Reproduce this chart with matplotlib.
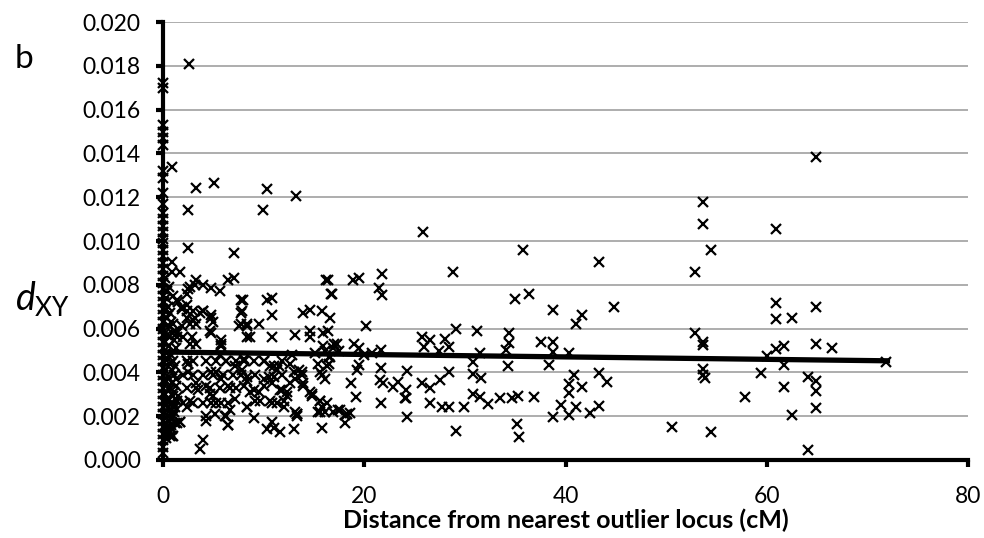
import matplotlib
matplotlib.use('Agg')
import matplotlib.pyplot as plt
from matplotlib.ticker import FormatStrFormatter

plt.rcParams['font.family'] = ['Lato', 'DejaVu Sans']
plt.rcParams['mathtext.fontset'] = 'custom'
plt.rcParams['mathtext.it'] = 'Lato:italic'
plt.rcParams['mathtext.rm'] = 'Lato'

# loci sitting right on an outlier (distance 0)
axis_y = [0.0172, 0.0170, 0.0153, 0.0150, 0.0147, 0.0144, 0.0132, 0.0129, 0.0122,
          0.0117, 0.0113, 0.0110, 0.0107, 0.0104, 0.0101, 0.0099, 0.0096, 0.0093,
          0.0090, 0.0087, 0.0084, 0.0081, 0.0078, 0.0075, 0.0072, 0.0069, 0.0066,
          0.0063, 0.0060, 0.0057, 0.0054, 0.0051, 0.0048, 0.0045, 0.0042, 0.0039,
          0.0036, 0.0033, 0.0030, 0.0027, 0.0024, 0.0021, 0.0018, 0.0015, 0.0012,
          0.0009, 0.0006, 0.0003]

# very close loci (< 1.5 cM)
near_x = [0.1, 0.2, 0.3, 0.4, 0.5, 0.6, 0.7, 0.8, 0.9, 1.0, 1.1, 1.2, 1.3, 1.4,
          0.2, 0.3, 0.4, 0.5, 0.6, 0.7, 0.8, 0.9, 1.0, 1.1, 1.2, 1.3,
          0.1, 0.3, 0.5, 0.7, 0.9, 1.1, 1.3, 1.5,
          0.2, 0.4, 0.6, 0.8, 1.0, 1.2, 1.4,
          0.1, 0.3, 0.5, 0.7, 0.9, 1.1,
          0.2, 0.4, 0.6, 0.8, 1.0, 1.2,
          0.1, 0.3, 0.5, 0.7, 0.4, 0.6, 0.2]
near_y = [0.0072, 0.0068, 0.0074, 0.0065, 0.0070, 0.0061, 0.0067, 0.0063, 0.0058, 0.0062, 0.0055, 0.0059, 0.0051, 0.0056,
          0.0054, 0.0049, 0.0057, 0.0046, 0.0052, 0.0044, 0.0048, 0.0041, 0.0045, 0.0039, 0.0043, 0.0037,
          0.0040, 0.0036, 0.0038, 0.0033, 0.0035, 0.0031, 0.0034, 0.0029,
          0.0030, 0.0027, 0.0032, 0.0026, 0.0029, 0.0024, 0.0027,
          0.0022, 0.0025, 0.0020, 0.0023, 0.0019, 0.0022,
          0.0017, 0.0015, 0.0018, 0.0016, 0.0020, 0.0017,
          0.0012, 0.0010, 0.0013, 0.0011, 0.0077, 0.0079, 0.0083]

# 1.5 - 20 cM
inner_x = [2.6, 0.9, 2.5, 9.9, 3.3, 5.1, 10.3, 13.2,
           2.5, 7.1, 0.9, 0.9, 1.7, 3.3, 2.7, 4.0, 4.8, 5.7, 6.5, 7.1, 16.4, 16.7,
           7.9, 7.8, 10.3, 10.8, 10.8, 13.9, 14.6, 15.8, 16.6, 7.5, 8.3, 8.6, 9.5,
           10.8, 13.1, 14.6, 14.6, 15.9, 16.4, 4.8, 4.8, 4.0, 3.2, 1.9, 1.4, 2.4,
           5.8, 5.7, 6.3, 7.2, 7.8, 4.8, 5.3, 5.8, 4.3, 4.7, 5.0,
           2.5, 2.5, 3.3, 3.5, 2.7, 2.4, 6.5, 7.2, 6.7, 6.2, 6.5, 4.3, 5.3,
           8.3, 8.6, 9.5, 9.1, 8.3, 10.0, 10.5, 10.8, 11.0, 11.5, 11.3, 12.3, 11.8,
           10.3, 11.0, 11.6, 13.0, 13.3, 13.1, 13.9, 13.8, 13.0,
           14.6, 14.8, 15.6, 15.8, 15.6, 16.3, 16.9, 15.8,
           15.4, 15.8, 16.3, 16.6, 15.1, 15.9,
           1.4, 1.7, 0.9, 1.0, 4.0, 3.7,
           3.2, 2.5, 2.4, 1.0, 1.5, 1.9, 2.4, 3.0, 3.7, 4.0, 4.8, 5.0, 3.0, 2.4, 2.7,
           3.3, 4.7, 1.9, 1.4, 2.0, 2.9, 2.7, 3.3, 5.8, 5.8,
           7.7, 7.7, 7.7, 8.3, 8.3,
           2.4, 3.0, 4.3, 5.3, 6.3, 7.3, 8.0, 2.0, 3.0, 4.0, 5.0, 6.0, 7.0, 7.7,
           2.4, 3.3, 4.7, 5.7, 6.7, 7.3, 1.0, 2.0, 3.0, 4.0, 4.8, 5.8, 6.5,
           1.0, 1.7, 4.3, 5.2, 6.3, 6.5, 0.7, 0.9, 0.4,
           17.3, 16.9, 16.1, 8.0, 9.0, 10.0, 10.6, 11.3, 11.8, 12.6, 12.8, 13.5, 13.8,
           8.3, 9.1, 10.0, 11.0, 11.8, 12.6, 13.1, 13.9, 15.6, 16.1,
           8.0, 9.0, 10.0, 10.6, 11.6, 12.3, 12.0,
           8.3, 9.6, 10.8, 12.0, 13.3, 14.8, 15.6, 15.4, 16.1, 17.4, 18.3,
           9.0, 10.8, 13.3,
           17.6, 18.1, 18.1, 18.6, 19.5, 19.3, 18.7, 19.2, 16.8, 16.2, 18.9, 19.5,
           16.5, 16.5, 17.0, 17.5, 19.0, 19.5, 20.0]
inner_y = [0.0181, 0.0134, 0.0114, 0.0114, 0.01244, 0.01265, 0.01237, 0.01205,
           0.00967, 0.00944, 0.00905, 0.0086, 0.0086, 0.0082, 0.0079, 0.0080, 0.00784, 0.0077, 0.0082, 0.0083, 0.0082, 0.0076,
           0.0073, 0.0068, 0.0073, 0.0074, 0.0066, 0.0067, 0.00685, 0.0068, 0.0065, 0.0061, 0.0061, 0.0056, 0.0062,
           0.0056, 0.0057, 0.0059, 0.0056, 0.0058, 0.0059, 0.0065, 0.0058, 0.0068, 0.0065, 0.0069, 0.0073, 0.0071,
           0.0053, 0.0048, 0.0045, 0.0043, 0.0041, 0.0040, 0.0040, 0.0037, 0.0034, 0.0030, 0.0029,
           0.0044, 0.0040, 0.0035, 0.0032, 0.0027, 0.0024, 0.0034, 0.0028, 0.0023, 0.0020, 0.0016, 0.0018, 0.0026,
           0.0036, 0.0031, 0.0031, 0.0027, 0.0024, 0.0045, 0.0038, 0.0035, 0.0043, 0.0043, 0.0026, 0.0029, 0.0032,
           0.0014, 0.00145, 0.0013, 0.0014, 0.0021, 0.0022, 0.0035, 0.0040, 0.0040,
           0.0031, 0.0029, 0.0027, 0.0024, 0.0022, 0.0026, 0.0022, 0.00145,
           0.0044, 0.0039, 0.0043, 0.0047, 0.0049, 0.0052,
           0.0017, 0.00175, 0.0014, 0.0011, 0.0009, 0.0005,
           0.0080, 0.0078, 0.0076, 0.0075, 0.0072, 0.0070, 0.0068, 0.0068, 0.0067, 0.0068, 0.0066, 0.0063, 0.0064, 0.0065, 0.0062,
           0.0062, 0.0059, 0.0061, 0.0058, 0.0056, 0.0056, 0.0053, 0.0053, 0.0055, 0.0052,
           0.0073, 0.0067, 0.0062, 0.0062, 0.0056,
           0.0045, 0.0045, 0.0045, 0.0045, 0.0045, 0.0045, 0.0045, 0.0039, 0.0039, 0.0039, 0.0039, 0.0039, 0.0039, 0.0039,
           0.0033, 0.0033, 0.0033, 0.0033, 0.0033, 0.0033, 0.0026, 0.0026, 0.0026, 0.0026, 0.0026, 0.0026, 0.0026,
           0.0024, 0.00175, 0.0020, 0.0021, 0.0020, 0.0016, 0.0013, 0.0011, 0.0015,
           0.0053, 0.0051, 0.0050, 0.0046, 0.0045, 0.0045, 0.0043, 0.0041, 0.0045, 0.0044, 0.0048, 0.0041, 0.0039,
           0.0038, 0.0039, 0.0037, 0.0038, 0.0039, 0.0035, 0.0037, 0.0034, 0.0040, 0.0037,
           0.0034, 0.0032, 0.0034, 0.0027, 0.0032, 0.0031, 0.0027,
           0.0024, 0.0027, 0.0026, 0.0024, 0.0021, 0.0030, 0.0027, 0.0022, 0.0022, 0.0023, 0.0021,
           0.0019, 0.00175, 0.0020,
           0.00228, 0.00205, 0.00168, 0.00213, 0.00434, 0.00411, 0.00353, 0.00289, 0.00758, 0.0082, 0.0082, 0.0083,
           0.0047, 0.0044, 0.0053, 0.0050, 0.0053, 0.0051, 0.0048]

# 20 - 45 cM
mid_x = [21.8, 21.5, 21.8, 20.2, 25.8, 35.8, 43.3, 28.8, 35.0, 36.4, 38.8, 44.8, 41.6, 41.0, 31.2, 29.1,
         25.7, 26.5, 28.0, 28.4, 27.4, 25.9,
         34.4, 34.4, 34.1, 37.6, 38.8, 38.8, 40.3, 31.5, 30.8, 34.3, 38.4, 24.2, 30.8, 31.6, 40.8, 43.3, 44.1,
         21.7, 21.6, 21.9, 22.9, 23.4, 24.1, 24.1,
         25.7, 26.5, 27.5, 28.4, 40.3, 40.3, 41.6,
         30.8, 31.5, 32.3, 33.5, 34.7, 35.3, 36.9,
         21.7, 24.0, 24.2, 26.5, 27.7, 28.4, 29.9,
         29.1, 35.2, 35.4, 38.8, 39.6, 40.3, 41.0, 42.4, 43.3,
         20.8, 21.7]
mid_y = [0.0085, 0.00784, 0.00753, 0.00612, 0.0104, 0.00959, 0.00903, 0.0086, 0.00735, 0.0076, 0.00686, 0.00699, 0.00662, 0.0062, 0.0059, 0.0060,
         0.0056, 0.00548, 0.00552, 0.00518, 0.0050, 0.00518,
         0.00578, 0.00533, 0.00502, 0.0054, 0.0054, 0.00495, 0.0049, 0.0049, 0.00449, 0.0043, 0.00435, 0.00406, 0.00393, 0.00373, 0.00388, 0.00396, 0.00358,
         0.00418, 0.00365, 0.0035, 0.00332, 0.00358, 0.0032, 0.00282,
         0.00353, 0.0033, 0.00365, 0.00403, 0.00347, 0.00304, 0.00335,
         0.00301, 0.00286, 0.00256, 0.00282, 0.00282, 0.00292, 0.00289,
         0.00259, 0.00282, 0.00198, 0.00259, 0.0024, 0.0024, 0.00243,
         0.00134, 0.00164, 0.00104, 0.00198, 0.00251, 0.00205, 0.00243, 0.00213, 0.00247,
         0.00487, 0.00502]

# beyond 45 cM
far_x = [64.9, 53.7, 53.7, 60.9, 54.5, 52.9, 60.9, 64.9, 60.9, 62.5, 52.9, 53.7, 53.7,
         60.9, 61.7, 60.0, 64.9, 66.5, 71.9, 61.7, 53.7, 53.9, 53.7, 59.4,
         64.1, 64.9, 64.9, 61.7, 57.8, 64.9, 62.5, 50.6, 54.5, 64.1]
far_y = [0.01385, 0.0118, 0.01078, 0.01055, 0.00959, 0.0086, 0.00716, 0.0070, 0.00644, 0.00647, 0.00581, 0.0054, 0.00525,
         0.00505, 0.0052, 0.00475, 0.0053, 0.00513, 0.00446, 0.00432, 0.00414, 0.00373, 0.00388, 0.00396,
         0.0038, 0.00362, 0.00316, 0.00332, 0.00289, 0.00236, 0.00205, 0.00149, 0.00129, 0.00046]

# linear trend line end points
trend_x = [0, 72]
trend_y = [0.00493, 0.00453]

fig = plt.figure(figsize=(9.84, 5.38), dpi=100)
ax = fig.add_axes([0.1657, 0.145, 0.818, 0.814])

ax.plot([0] * len(axis_y), axis_y, 'kx', ms=7, mew=1.6, clip_on=False, zorder=3)
ax.plot(near_x, near_y, 'kx', ms=7, mew=1.6, zorder=3)
ax.plot(inner_x, inner_y, 'kx', ms=7, mew=1.6, zorder=3)
ax.plot(mid_x, mid_y, 'kx', ms=7, mew=1.6, zorder=3)
ax.plot(far_x, far_y, 'kx', ms=7, mew=1.6, zorder=3)
ax.plot(trend_x, trend_y, 'k-', lw=3.8, zorder=4)

ax.set_xlim(0, 80)
ax.set_ylim(0, 0.020)
ax.set_xticks([0, 20, 40, 60, 80])
ax.set_yticks([i * 0.002 for i in range(11)])
ax.yaxis.set_major_formatter(FormatStrFormatter('%.3f'))

ax.grid(axis='y', color='#a0a0a0', lw=1.2, zorder=0)
ax.set_axisbelow(True)
for s in ['top', 'right']:
    ax.spines[s].set_visible(False)
for s in ['left', 'bottom']:
    ax.spines[s].set_linewidth(3)
    ax.spines[s].set_color('black')
ax.tick_params(axis='both', direction='out', length=5, width=3, labelsize=16.5)
ax.tick_params(axis='y', pad=11)
ax.tick_params(axis='x', pad=14)

ax.set_xlabel('Distance from nearest outlier locus (cM)', fontsize=18, fontweight='bold', labelpad=1)
fig.text(0.024, 0.89, 'b', fontsize=24, ha='center', va='center')
fig.text(0.015, 0.445, r'$d_{\mathrm{XY}}$', fontsize=27, ha='left', va='center')

fig.savefig('out.png', dpi=100)
